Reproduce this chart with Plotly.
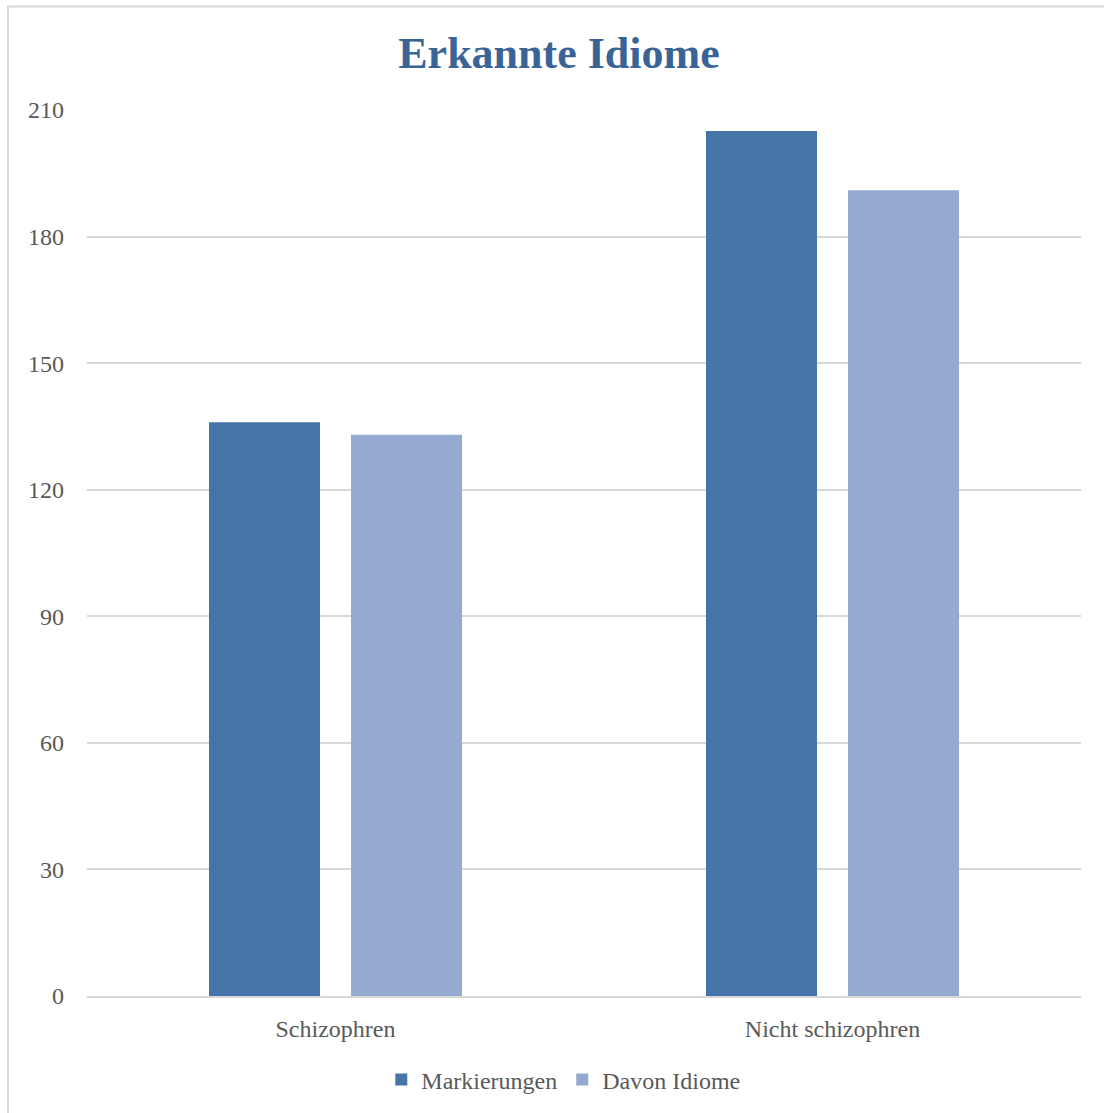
import plotly.graph_objects as go

categories = ["Schizophren", "Nicht schizophren"]
markierungen = [136, 205]
davon_idiome = [133, 191]
series_names = ["Markierungen", "Davon Idiome"]
y_ticks = [0, 30, 60, 90, 120, 150, 180, 210]

font_family = "Liberation Serif, DejaVu Serif, serif"
tick_color = "#595959"
tick_size = 24

fig = go.Figure()
fig.add_trace(go.Bar(x=categories, y=markierungen, name=series_names[0],
                     marker=dict(color="#4674A8", line=dict(width=0))))
fig.add_trace(go.Bar(x=categories, y=davon_idiome, name=series_names[1],
                     marker=dict(color="#95AAD0", line=dict(width=0))))

fig.update_layout(
    width=1104, height=1113,
    margin=dict(l=87, r=23, t=110, b=116),
    paper_bgcolor="white", plot_bgcolor="white",
    barmode="group", bargap=0.4286, bargroupgap=0.218,
    title=dict(text="<b>Erkannte Idiome</b>", x=559 / 1104, xanchor="center",
               y=1 - 53 / 1113, yanchor="middle",
               font=dict(family=font_family, size=44, color="#3A6496")),
    font=dict(family=font_family, size=tick_size, color=tick_color),
    showlegend=True,
    legend=dict(orientation="h", x=529 / 1104, xanchor="center", y=-83 / 887, yanchor="middle",
                font=dict(family=font_family, size=tick_size, color=tick_color),
                itemwidth=30, traceorder="normal"),
    xaxis=dict(showgrid=False, showline=True, linecolor="#D9D9D9", linewidth=1.5,
               ticks="", tickfont=dict(family=font_family, size=tick_size, color=tick_color),
               ticklabelstandoff=10),
    yaxis=dict(range=[0, 210], tickvals=y_ticks, showgrid=True, gridcolor="#D9D9D9",
               gridwidth=1.5, zeroline=False, showline=False, ticks="",
               tickfont=dict(family=font_family, size=tick_size, color=tick_color),
               ticklabelstandoff=22),
    shapes=[dict(type="rect", xref="paper", yref="paper",
                 x0=-79 / 994, x1=1.0 + 60 / 994, y0=-160 / 887, y1=1.0 + 103.5 / 887,
                 line=dict(color="#D9D9D9", width=2), fillcolor="rgba(0,0,0,0)", layer="below")],
)

fig.write_html("out.html")
